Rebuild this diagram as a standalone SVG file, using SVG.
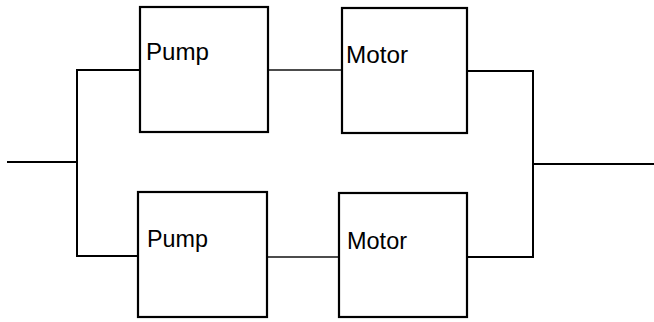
<svg xmlns="http://www.w3.org/2000/svg" width="654" height="322" viewBox="0 0 654 322">
<style>
.box{fill:#fff;stroke:#000;stroke-width:2.2}
.lbl{font-family:"Liberation Sans",Arial,sans-serif;font-size:23px;fill:#000}
.wire{fill:none;stroke:#000;stroke-width:2}
.thin{fill:none;stroke:#111;stroke-width:1.4}
</style>
<rect width="654" height="322" fill="#fff"/>
<g id="connectors">
<path class="wire" d="M7,162 H77"/>
<path class="wire" d="M140,70 H77 V256 H138"/>
<path class="thin" d="M268,70 H342"/>
<path class="thin" d="M267,257 H339"/>
<path class="wire" d="M467,71 H533 V257 H467"/>
<path class="wire" d="M533,164 H654"/>
</g>
<g id="pump1"><rect class="box" x="140" y="7" width="128" height="125"/><text class="lbl" x="146" y="60" textLength="63" lengthAdjust="spacingAndGlyphs">Pump</text></g>
<g id="motor1"><rect class="box" x="342" y="8" width="125" height="125"/><text class="lbl" x="346" y="63" textLength="62" lengthAdjust="spacingAndGlyphs">Motor</text></g>
<g id="pump2"><rect class="box" x="138" y="192" width="129" height="125"/><text class="lbl" x="147" y="247" textLength="61" lengthAdjust="spacingAndGlyphs">Pump</text></g>
<g id="motor2"><rect class="box" x="339" y="193" width="128" height="124"/><text class="lbl" x="347" y="249" textLength="60" lengthAdjust="spacingAndGlyphs">Motor</text></g>
</svg>
